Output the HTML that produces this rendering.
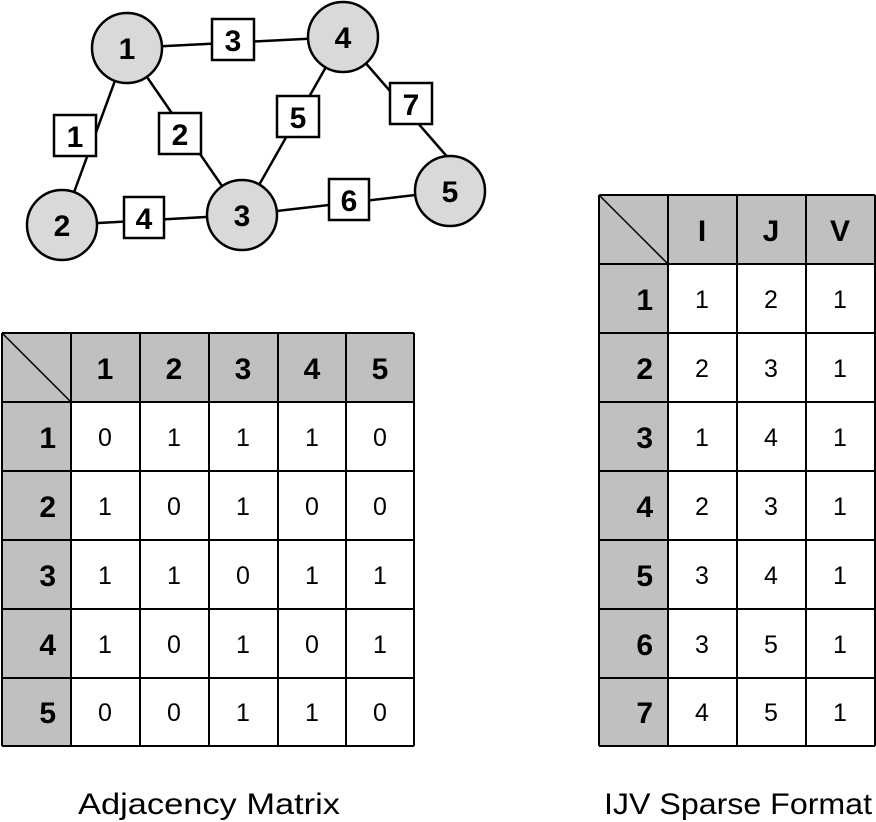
<!DOCTYPE html>
<html><head><style>
body{margin:0;background:#fff;}
svg{display:block}
text{font-family:"Liberation Sans",sans-serif;}
</style></head><body>
<svg width="876" height="822" xmlns="http://www.w3.org/2000/svg">
<g stroke="#000" stroke-width="2.5">
<line x1="127" y1="48" x2="343" y2="37"/>
<line x1="127" y1="48" x2="62" y2="225"/>
<line x1="127" y1="48" x2="242" y2="215"/>
<line x1="62" y1="225" x2="242" y2="215"/>
<line x1="242" y1="215" x2="343" y2="37"/>
<line x1="242" y1="215" x2="450" y2="191"/>
<line x1="343" y1="37" x2="450" y2="160"/>
</g>
<g fill="#d9d9d9" stroke="#000" stroke-width="2.5">
<circle cx="127" cy="48" r="35"/>
<circle cx="343" cy="37" r="35"/>
<circle cx="62" cy="225" r="35"/>
<circle cx="242" cy="215" r="35"/>
<circle cx="450" cy="191" r="35"/>
</g>
<g font-size="30" font-weight="bold" text-anchor="middle">
<text x="127" y="59">1</text>
<text x="343" y="48">4</text>
<text x="62" y="236">2</text>
<text x="242" y="226">3</text>
<text x="450" y="202">5</text>
</g>
<g fill="#fff" stroke="#000" stroke-width="2.5">
<rect x="212" y="19" width="42" height="41"/>
<rect x="54" y="115" width="42" height="41"/>
<rect x="159" y="113" width="42" height="41"/>
<rect x="277" y="96" width="42" height="41"/>
<rect x="390" y="83" width="42" height="41"/>
<rect x="124" y="197" width="40" height="41"/>
<rect x="329" y="179" width="40" height="41"/>
</g>
<g font-size="30" font-weight="bold" text-anchor="middle">
<text x="233" y="51">3</text>
<text x="75" y="147">1</text>
<text x="180" y="145">2</text>
<text x="298" y="128">5</text>
<text x="411" y="115">7</text>
<text x="144" y="229">4</text>
<text x="349" y="211">6</text>
</g>
<!-- left table -->
<g>
<rect x="2" y="333" width="412" height="69" fill="#c0c0c0"/>
<rect x="2" y="333" width="69" height="413" fill="#c0c0c0"/>
<g stroke="#000" stroke-width="2">
<line x1="2" y1="333" x2="414" y2="333"/><line x1="2" y1="402" x2="414" y2="402"/><line x1="2" y1="471" x2="414" y2="471"/><line x1="2" y1="540" x2="414" y2="540"/><line x1="2" y1="609" x2="414" y2="609"/><line x1="2" y1="678" x2="414" y2="678"/><line x1="2" y1="746" x2="414" y2="746"/>
<line x1="2" y1="333" x2="2" y2="746"/><line x1="71" y1="333" x2="71" y2="746"/><line x1="140" y1="333" x2="140" y2="746"/><line x1="209" y1="333" x2="209" y2="746"/><line x1="278" y1="333" x2="278" y2="746"/><line x1="346" y1="333" x2="346" y2="746"/><line x1="414" y1="333" x2="414" y2="746"/>
<line x1="2" y1="333" x2="71" y2="402" stroke-width="1.5"/>
</g>
<g font-size="30" font-weight="bold" text-anchor="middle">
<text x="105" y="379">1</text><text x="174" y="379">2</text><text x="243" y="379">3</text><text x="312" y="379">4</text><text x="380" y="379">5</text>
</g>
<g font-size="30" font-weight="bold" text-anchor="end">
<text x="56" y="448">1</text><text x="56" y="517">2</text><text x="56" y="586">3</text><text x="56" y="655">4</text><text x="56" y="723">5</text>
</g>
<g font-size="25" text-anchor="middle">
<text x="105" y="446">0</text><text x="174" y="446">1</text><text x="243" y="446">1</text><text x="312" y="446">1</text><text x="380" y="446">0</text>
<text x="105" y="515">1</text><text x="174" y="515">0</text><text x="243" y="515">1</text><text x="312" y="515">0</text><text x="380" y="515">0</text>
<text x="105" y="584">1</text><text x="174" y="584">1</text><text x="243" y="584">0</text><text x="312" y="584">1</text><text x="380" y="584">1</text>
<text x="105" y="653">1</text><text x="174" y="653">0</text><text x="243" y="653">1</text><text x="312" y="653">0</text><text x="380" y="653">1</text>
<text x="105" y="721">0</text><text x="174" y="721">0</text><text x="243" y="721">1</text><text x="312" y="721">1</text><text x="380" y="721">0</text>
</g>
</g>
<!-- right table -->
<g>
<rect x="599" y="195" width="276" height="69" fill="#c0c0c0"/>
<rect x="599" y="195" width="69" height="551" fill="#c0c0c0"/>
<g stroke="#000" stroke-width="2">
<line x1="599" y1="195" x2="875" y2="195"/><line x1="599" y1="264" x2="875" y2="264"/><line x1="599" y1="333" x2="875" y2="333"/><line x1="599" y1="402" x2="875" y2="402"/><line x1="599" y1="471" x2="875" y2="471"/><line x1="599" y1="540" x2="875" y2="540"/><line x1="599" y1="609" x2="875" y2="609"/><line x1="599" y1="678" x2="875" y2="678"/><line x1="599" y1="746" x2="875" y2="746"/>
<line x1="599" y1="195" x2="599" y2="746"/><line x1="668" y1="195" x2="668" y2="746"/><line x1="737" y1="195" x2="737" y2="746"/><line x1="806" y1="195" x2="806" y2="746"/><line x1="875" y1="195" x2="875" y2="746"/>
<line x1="599" y1="195" x2="668" y2="264" stroke-width="1.5"/>
</g>
<g font-size="30" font-weight="bold" text-anchor="middle">
<text x="702" y="241">I</text><text x="771" y="241">J</text><text x="840" y="241">V</text>
</g>
<g font-size="30" font-weight="bold" text-anchor="end">
<text x="653" y="310">1</text><text x="653" y="379">2</text><text x="653" y="448">3</text><text x="653" y="517">4</text><text x="653" y="586">5</text><text x="653" y="655">6</text><text x="653" y="723">7</text>
</g>
<g font-size="25" text-anchor="middle">
<text x="702" y="308">1</text><text x="771" y="308">2</text><text x="840" y="308">1</text>
<text x="702" y="377">2</text><text x="771" y="377">3</text><text x="840" y="377">1</text>
<text x="702" y="446">1</text><text x="771" y="446">4</text><text x="840" y="446">1</text>
<text x="702" y="515">2</text><text x="771" y="515">3</text><text x="840" y="515">1</text>
<text x="702" y="584">3</text><text x="771" y="584">4</text><text x="840" y="584">1</text>
<text x="702" y="653">3</text><text x="771" y="653">5</text><text x="840" y="653">1</text>
<text x="702" y="721">4</text><text x="771" y="721">5</text><text x="840" y="721">1</text>
</g>
</g>
<g font-size="30">
<text x="78" y="814" textLength="262" lengthAdjust="spacingAndGlyphs">Adjacency Matrix</text>
<text x="604" y="814" textLength="268" lengthAdjust="spacingAndGlyphs">IJV Sparse Format</text>
</g>
</svg>
</body></html>
